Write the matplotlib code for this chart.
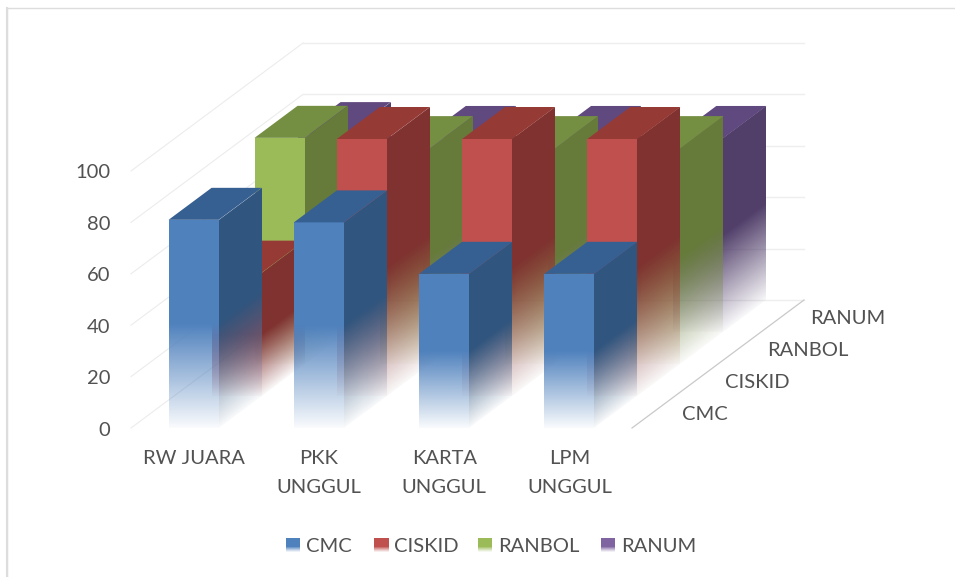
"""
plot.py
3-D style clustered columns (oblique projection) with faded column bases.
"""

import numpy as np
import matplotlib
matplotlib.use("Agg")
import matplotlib.pyplot as plt
from matplotlib.colors import to_rgb
from matplotlib.patches import Polygon, Rectangle

# ── Data ───────────────────────────────────────────────────────────────────────

categories = ["RW JUARA", "PKK\nUNGGUL", "KARTA\nUNGGUL", "LPM\nUNGGUL"]
series = ["CMC", "CISKID", "RANBOL", "RANUM"]
cmc = [81, 80, 60, 60]
ciskid = [48, 100, 100, 100]
ranbol = [88, 84, 84, 84]
ranum = [77, 75.5, 75.5, 75.5]
value_ticks = [0, 20, 40, 60, 80, 100]

front_colors = ["#4F81BD", "#C0504D", "#9BBB59", "#8064A2"]
side_colors = ["#30557E", "#7F3230", "#667B3A", "#513F6A"]
top_colors = ["#376092", "#963A35", "#748F42", "#60497F"]

# ── Projection (value, category, depth → figure pixels) ────────────────────────

X0, Y0 = 131.0, 428.0
CAT_W = 125.25
BAR_W = 50.1
DEPTH_X, DEPTH_Y = 43.0, 32.0
PX_PER_UNIT = 2.57


def proj(cat, depth, value):
    """cat in category slots, depth in series slots, value in chart units."""
    return (X0 + cat * CAT_W + depth * DEPTH_X,
            Y0 - depth * DEPTH_Y - value * PX_PER_UNIT)


def fade_alpha(frac):
    # solid over the top half of a column, almost clear at the floor
    return np.clip(0.03 + 0.97 * frac / 0.5, 0, 1)


def gradient_face(ax, corners, color, base_fn, height, zorder):
    """Fill a polygon with color, alpha taken from the height above the floor."""
    pts = np.array(corners)
    pts[:, 0] = np.round(pts[:, 0])  # whole pixels, so neighbouring faces meet cleanly
    xmin, ymin = np.floor(pts.min(axis=0))
    xmax, ymax = np.ceil(pts.max(axis=0))
    xs = np.arange(xmin, xmax) + 0.5
    ys = np.arange(ymin, ymax) + 0.5
    gx, gy = np.meshgrid(xs, ys)
    frac = (base_fn(gx) - gy) / height
    rgba = np.zeros(gx.shape + (4,))
    rgba[..., :3] = to_rgb(color)
    rgba[..., 3] = fade_alpha(frac)
    im = ax.imshow(rgba, extent=(xmin, xmax, ymax, ymin), origin="upper",
                   interpolation="nearest", aspect="auto", zorder=zorder)
    im.set_clip_path(Polygon(pts, closed=True, transform=ax.transData))


def draw_column(ax, i, d, value, zorder):
    left = i + (CAT_W - BAR_W) / 2 / CAT_W
    right = left + BAR_W / CAT_W
    height = value * PX_PER_UNIT
    fx0, fy0 = proj(left, d, 0)
    fx1, _ = proj(right, d, 0)

    # right side face
    gradient_face(ax,
                  [proj(right, d, 0), proj(right, d + 1, 0),
                   proj(right, d + 1, value), proj(right, d, value)],
                  side_colors[d],
                  lambda x: fy0 - (x - fx1) * DEPTH_Y / DEPTH_X, height, zorder)
    # front face
    gradient_face(ax,
                  [proj(left, d, 0), proj(right, d, 0),
                   proj(right, d, value), proj(left, d, value)],
                  front_colors[d], lambda x: fy0 + 0 * x, height, zorder + 0.1)
    # top face
    ax.add_patch(Polygon([proj(left, d, value), proj(right, d, value),
                          proj(right, d + 1, value), proj(left, d + 1, value)],
                         closed=True, fc=top_colors[d], ec="none", zorder=zorder + 0.2))


fig = plt.figure(figsize=(9.55, 5.77), dpi=100)
fig.patch.set_facecolor("white")
ax = fig.add_axes([0, 0, 1, 1])
ax.set_axis_off()

plt.rcParams["font.family"] = ["Lato", "DejaVu Sans"]
TXT = "#525252"
FS = 14.5

# ── Walls and floor ────────────────────────────────────────────────────────────

for v in value_ticks:
    ax.plot(*zip(proj(0, 0, v), proj(0, 4, v)), color="#ECECEC", lw=0.8, zorder=1)
    ax.plot(*zip(proj(0, 4, v), proj(4, 4, v)), color="#EEEEEE", lw=1.0, zorder=1)
    lx, ly = proj(0, 0, v)
    ax.text(lx - 21, ly + 2, str(v), ha="right", va="center", fontsize=FS, color=TXT)
ax.plot(*zip(proj(4, 0, 0), proj(4, 4, 0)), color="#C9C9C9", lw=0.9, zorder=1)

# ── Columns, back row first ────────────────────────────────────────────────────

rows = [cmc, ciskid, ranbol, ranum]
for d in range(len(rows) - 1, -1, -1):
    for i, value in enumerate(rows[d]):
        draw_column(ax, i, d, value, zorder=10 + (3 - d) * 10 + i)

# ── Labels ─────────────────────────────────────────────────────────────────────

for i, label in enumerate(categories):
    cx, cy = proj(i + 0.5, 0, 0)
    ax.text(cx, cy + 22, label, ha="center", va="top", fontsize=FS, color=TXT,
            linespacing=1.88)

for d, label in enumerate(series):
    sx, sy = proj(4, d + 0.5, 0)
    ax.text(sx + 28, sy + 2, label, ha="left", va="center", fontsize=FS, color=TXT)

# ── Legend ─────────────────────────────────────────────────────────────────────

swatch_x = [286, 374, 478, 601]
for x, label, color in zip(swatch_x, series, front_colors):
    grad = np.ones((14, 1, 4))
    grad[..., :3] = to_rgb(color)
    grad[9:, 0, 3] = np.array([0.8, 0.6, 0.42, 0.25, 0.1])
    ax.imshow(grad, extent=(x, x + 14, 552, 538), origin="upper",
              interpolation="nearest", aspect="auto", zorder=60)
    ax.text(x + 20, 546, label, ha="left", va="center", fontsize=FS, color=TXT)

# ── Outer frame ────────────────────────────────────────────────────────────────

ax.add_patch(Rectangle((7, 7.5), 960, 600, fc="none", ec="#DDDDDD", lw=1.0, zorder=0))
ax.plot([7, 7], [7.5, 577], color="#DDDDDD", lw=1.5, zorder=0)

ax.set_xlim(0, 955)
ax.set_ylim(577, 0)

fig.savefig("out.png", dpi=100, facecolor="white")
plt.close(fig)
